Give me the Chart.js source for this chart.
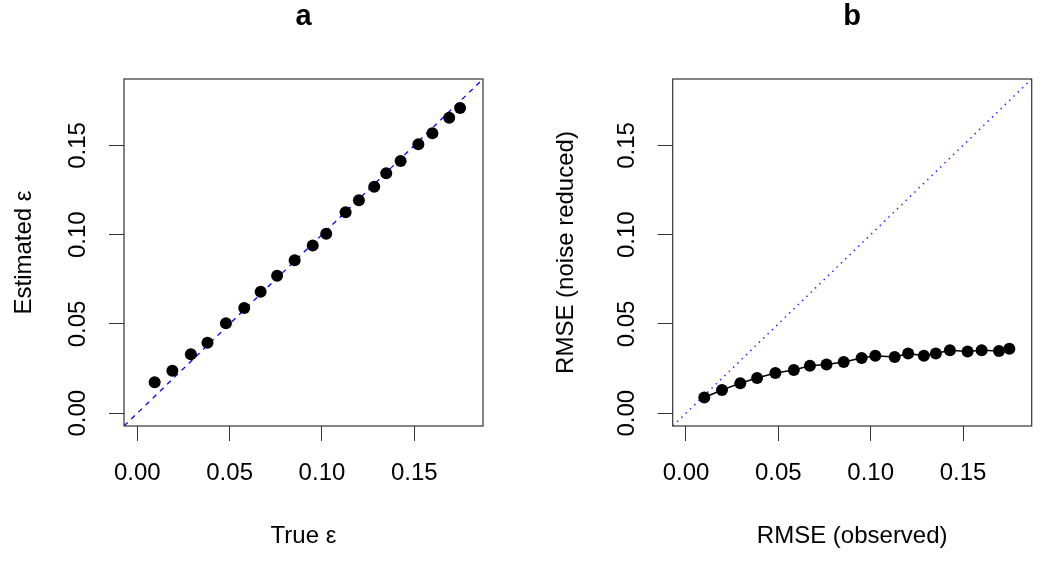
<!DOCTYPE html>
<html lang="en">
<head>
    <meta charset="UTF-8">
    <title>Estimated epsilon and RMSE</title>
    <style>
        * { box-sizing: border-box; margin: 0; padding: 0; }
        body, html { width: 1050px; height: 564px; background: #fff; overflow: hidden; }
        .panel { position: absolute; top: 0; width: 525px; height: 564px; }
        #panelA { left: 0; }
        #panelB { left: 525px; }
    </style>
</head>
<body>
    <div class="panel" id="panelA"><canvas id="chartA" width="525" height="564"></canvas></div>
    <div class="panel" id="panelB"><canvas id="chartB" width="525" height="564"></canvas></div>

    <script src="https://cdn.jsdelivr.net/npm/chart.js@4.4.1/dist/chart.umd.min.js"></script>
    <script>
        "use strict";

        // panel a: true vs estimated epsilon
        const trueEps      = [0.0094, 0.0190, 0.0290, 0.0380, 0.0480, 0.0579, 0.0668, 0.0757, 0.0852, 0.0950,
                              0.1023, 0.1128, 0.1200, 0.1283, 0.1348, 0.1426, 0.1522, 0.1598, 0.1689, 0.1748]
        const estEps       = [0.0173, 0.0237, 0.0330, 0.0395, 0.0503, 0.0589, 0.0680, 0.0770, 0.0857, 0.0939,
                              0.1005, 0.1126, 0.1193, 0.1269, 0.1344, 0.1413, 0.1506, 0.1568, 0.1655, 0.1709]

        // panel b: observed vs noise reduced RMSE
        const rmseObserved = [0.0099, 0.0195, 0.0294, 0.0385, 0.0484, 0.0584, 0.0671, 0.0761, 0.0854, 0.0951,
                              0.1025, 0.1130, 0.1203, 0.1288, 0.1353, 0.1429, 0.1525, 0.1601, 0.1695, 0.1751]
        const rmseReduced  = [0.0088, 0.0130, 0.0168, 0.0197, 0.0225, 0.0242, 0.0266, 0.0272, 0.0287, 0.0309,
                              0.0322, 0.0315, 0.0334, 0.0322, 0.0334, 0.0352, 0.0345, 0.0352, 0.0348, 0.0361]

        // shared axes
        const axisRange    = [-0.0072, 0.1872]
        const tickValues   = [0, 0.05, 0.10, 0.15]
        const tickLabels   = ["0.00", "0.05", "0.10", "0.15"]

        const FONT = "'Liberation Sans', Arial, Helvetica, sans-serif"

        const toPoints = (xs, ys) => xs.map((x, i) => ({ x: x, y: ys[i] }))

        // frame around the plot region, like R's box()
        const boxPlugin = {
            id: 'box',
            afterDatasetsDraw(chart) {
                const a = chart.chartArea
                const ctx = chart.ctx
                ctx.save()
                ctx.strokeStyle = '#333'
                ctx.lineWidth = 1.2
                ctx.strokeRect(a.left, a.top, a.right - a.left, a.bottom - a.top)
                ctx.restore()
            }
        }

        function fixedTicks(scale) {
            scale.ticks = tickValues.map(v => ({ value: v }))
        }

        function makeOptions(cfg) {
            return {
                responsive: false,
                animation: false,
                layout: { padding: { top: 0, left: 0, bottom: 0, right: cfg.padRight } },
                plugins: {
                    legend: { display: false },
                    tooltip: { enabled: false },
                    title: {
                        display: true,
                        text: cfg.title,
                        fullSize: false,
                        color: '#000',
                        font: { family: FONT, size: 29, weight: 'bold' },
                        padding: { top: 0, bottom: 44.2 }
                    }
                },
                scales: {
                    x: {
                        type: 'linear',
                        min: axisRange[0],
                        max: axisRange[1],
                        afterBuildTicks: fixedTicks,
                        afterFit: s => { s.height = 138 },
                        border: { display: false },
                        grid: { drawOnChartArea: false, tickLength: 15, color: '#333', lineWidth: 1 },
                        ticks: {
                            color: '#000',
                            padding: 17.6,
                            maxRotation: 0,
                            font: { family: FONT, size: 24 },
                            callback: v => tickLabels[tickValues.indexOf(v)]
                        },
                        title: {
                            display: true,
                            text: cfg.xTitle,
                            color: '#000',
                            font: { family: FONT, size: 24 },
                            padding: { top: 0, bottom: 13 }
                        }
                    },
                    y: {
                        type: 'linear',
                        min: axisRange[0],
                        max: axisRange[1],
                        afterBuildTicks: fixedTicks,
                        afterFit: s => { s.width = cfg.yWidth },
                        border: { display: false },
                        grid: { drawOnChartArea: false, tickLength: 15, color: '#333', lineWidth: 1 },
                        ticks: {
                            color: '#000',
                            padding: cfg.yTickPad,
                            minRotation: 90,
                            maxRotation: 90,
                            crossAlign: 'center',
                            font: { family: FONT, size: 24 },
                            callback: v => tickLabels[tickValues.indexOf(v)]
                        },
                        title: {
                            display: true,
                            text: cfg.yTitle,
                            color: '#000',
                            font: { family: FONT, size: 24 },
                            padding: { top: cfg.yTitlePad, bottom: 0 }
                        }
                    }
                }
            }
        }

        new Chart(document.getElementById('chartA').getContext('2d'), {
            type: 'scatter',
            data: {
                datasets: [{
                    data: toPoints(trueEps, estEps),
                    pointRadius: 6,
                    pointBackgroundColor: '#000',
                    pointBorderWidth: 0
                }, {
                    data: toPoints(axisRange, axisRange),
                    showLine: true,
                    pointRadius: 0,
                    borderColor: '#0000ff',
                    borderWidth: 1.3,
                    borderDash: [5, 5]
                }]
            },
            options: makeOptions({
                title: 'a', xTitle: 'True \u03b5', yTitle: 'Estimated \u03b5',
                padRight: 42, yWidth: 124, yTickPad: 7.5, yTitlePad: 9.6
            }),
            plugins: [boxPlugin]
        })

        new Chart(document.getElementById('chartB').getContext('2d'), {
            type: 'scatter',
            data: {
                datasets: [{
                    data: toPoints(rmseObserved, rmseReduced),
                    showLine: true,
                    borderColor: '#000',
                    borderWidth: 1.5,
                    pointRadius: 6,
                    pointBackgroundColor: '#000',
                    pointBorderWidth: 0
                }, {
                    data: toPoints(axisRange, axisRange),
                    showLine: true,
                    pointRadius: 0,
                    borderColor: '#2828ff',
                    borderWidth: 1.5,
                    borderDash: [1.5, 4.5]
                }]
            },
            options: makeOptions({
                title: 'b', xTitle: 'RMSE (observed)', yTitle: 'RMSE (noise reduced)',
                padRight: 18.3, yWidth: 147.7, yTickPad: 7.2, yTitlePad: 26.6
            }),
            plugins: [boxPlugin]
        })
    </script>
</body>
</html>
